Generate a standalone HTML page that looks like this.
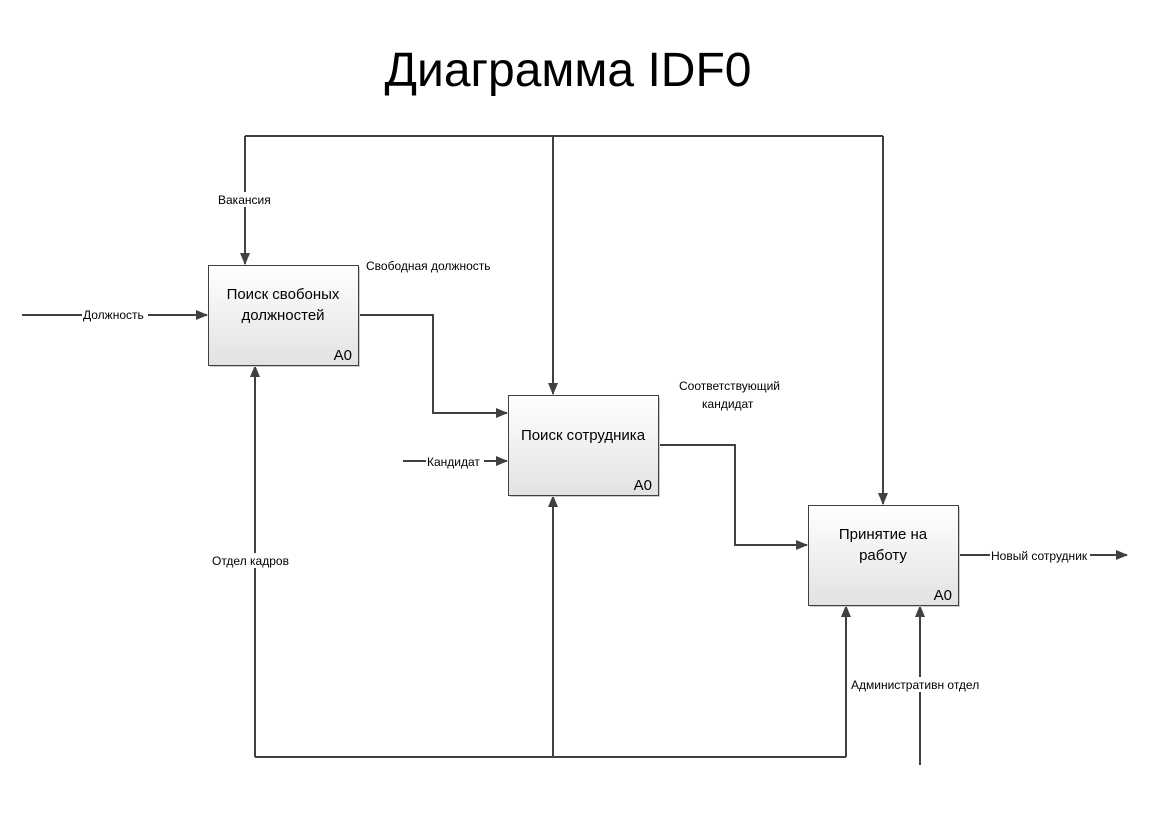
<!DOCTYPE html>
<html><head><meta charset="utf-8"><style>
body{margin:0;background:#fff;width:1164px;height:813px;overflow:hidden}
text{font-family:"Liberation Sans","DejaVu Sans",sans-serif}
</style></head><body>
<svg width="1164" height="813" viewBox="0 0 1164 813">
<defs>
<linearGradient id="g" x1="0" y1="0" x2="0" y2="1"><stop offset="0" stop-color="#ffffff"/><stop offset="1" stop-color="#e2e2e2"/></linearGradient>
<marker id="a" markerWidth="12" markerHeight="10" refX="11" refY="5" orient="auto" markerUnits="userSpaceOnUse"><path d="M0,0 L12,5 L0,10 Z" fill="#404040"/></marker>
</defs>
<text x="568" y="86" font-size="48" text-anchor="middle" fill="#000">Диаграмма IDF0</text>
<g stroke="#404040" stroke-width="2" fill="none">
<path d="M245,136 H883"/>
<path d="M245,136 V264" marker-end="url(#a)"/>
<path d="M553,136 V394" marker-end="url(#a)"/>
<path d="M883,136 V504" marker-end="url(#a)"/>
<path d="M22,315 H207" marker-end="url(#a)"/>
<path d="M358,315 H433 V413 H507" marker-end="url(#a)"/>
<path d="M403,461 H507" marker-end="url(#a)"/>
<path d="M658,445 H735 V545 H807" marker-end="url(#a)"/>
<path d="M958,555 H1127" marker-end="url(#a)"/>
<path d="M255,757 H846"/>
<path d="M255,757 V366" marker-end="url(#a)"/>
<path d="M553,757 V496" marker-end="url(#a)"/>
<path d="M846,757 V606" marker-end="url(#a)"/>
<path d="M920,765 V606" marker-end="url(#a)"/>
</g>
<g stroke="#404040" stroke-width="1" fill="url(#g)">
<rect x="210" y="267" width="150" height="100" fill="#ccc" stroke="none"/>
<rect x="208.5" y="265.5" width="150" height="100"/>
<rect x="510" y="397" width="150" height="100" fill="#ccc" stroke="none"/>
<rect x="508.5" y="395.5" width="150" height="100"/>
<rect x="810" y="507" width="150" height="100" fill="#ccc" stroke="none"/>
<rect x="808.5" y="505.5" width="150" height="100"/>
</g>
<g font-size="15" fill="#000" text-anchor="middle">
<text x="283" y="299">Поиск свобоных</text><text x="283" y="320">должностей</text>
<text x="583" y="440">Поиск сотрудника</text>
<text x="883" y="539">Принятие на</text><text x="883" y="560">работу</text>
</g>
<g font-size="15" fill="#000" text-anchor="end">
<text x="352" y="360">A0</text><text x="652" y="490">A0</text><text x="952" y="600">A0</text>
</g>
<g font-size="12" fill="#000">
<rect x="217" y="192" width="56" height="15" fill="#fff"/>
<text x="218" y="204">Вакансия</text>
<rect x="82" y="308" width="66" height="15" fill="#fff"/>
<text x="83" y="319">Должность</text>
<rect x="426" y="454" width="58" height="15" fill="#fff"/>
<text x="427" y="466">Кандидат</text>
<rect x="990" y="548" width="100" height="15" fill="#fff"/>
<text x="991" y="560">Новый сотрудник</text>
<text x="366" y="270">Свободная должность</text>
<text x="679" y="390">Соответствующий</text>
<text x="702" y="408">кандидат</text>
<rect x="210" y="553" width="84" height="15" fill="#fff"/>
<text x="212" y="565">Отдел кадров</text>
<rect x="848" y="677" width="136" height="15" fill="#fff"/>
<text x="851" y="689">Административн отдел</text>
</g>
</svg>
</body></html>
